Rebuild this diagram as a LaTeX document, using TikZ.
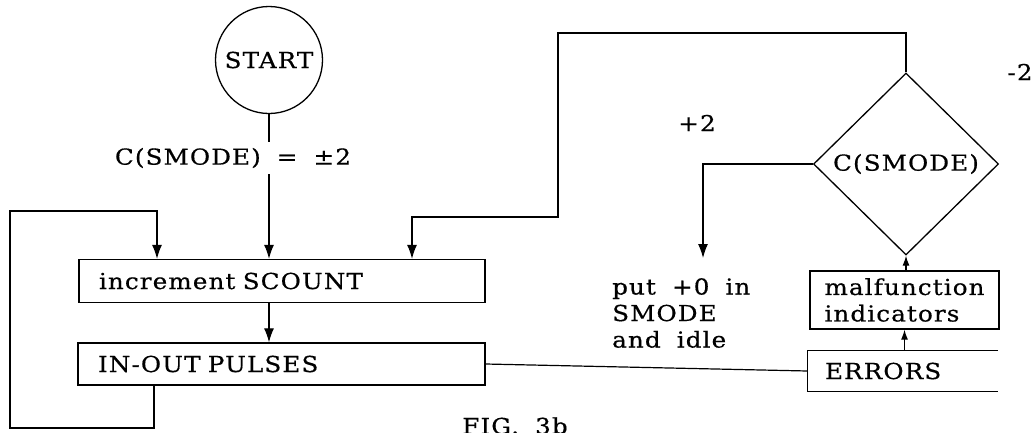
\documentclass[tikz,border=0pt]{standalone}
\usepackage{fontspec}
\setmainfont{DejaVu Serif}[FakeStretch=1.12, LetterSpace=5, WordSpace=1.8, FakeBold=0.5]
\usetikzlibrary{shapes.geometric,arrows.meta}
\begin{document}
\begin{tikzpicture}[x=1pt,y=-1pt,
  every node/.style={font=\fontsize{22}{26.5}\selectfont},
  ln/.style={line width=1.2pt},
  arr/.style={ln,-{Latex[length=14pt,width=10pt]}},
  sarr/.style={ln,-{Latex[length=10pt,width=7pt]}},
  box/.style={draw,line width=1.3pt,inner ysep=0pt,align=left},
]
\useasboundingbox (0,0) rectangle (1035,432);
\clip (0,0) rectangle (1035,432);

% nodes
\node[draw,circle,line width=1.3pt,minimum size=107pt,inner sep=0pt] (start) at (269,60) {START};
\node[box,text width=366pt,inner xsep=20pt,minimum height=43pt] (inc) at (282,281) {increment SCOUNT};
\node[box,text width=367pt,inner xsep=20pt,minimum height=42pt] (io) at (281.5,364) {IN-OUT PULSES};
\node[draw,diamond,line width=1.3pt,minimum width=185pt,minimum height=182pt,inner sep=0pt] (dia) at (906,164) {C(SMODE)};
\node[box,text width=160pt,inner xsep=14.5pt,minimum height=58pt] (mal) at (904.5,300) {malfunction\\indicators};
\node[align=left,text width=156pt,inner xsep=17pt,inner ysep=0pt,minimum height=40pt] (err) at (903,371) {ERRORS};
\draw[line width=1.3pt] (err.north east) -- (err.north west) -- (err.south west) -- (err.south east);

% coordinates
\coordinate (t2) at (558,33);
\coordinate (t4) at (412,217);
\coordinate (pend) at (703,258);
\coordinate (l1) at (154,428);
\coordinate (l2) at (10,211);
\coordinate (l3) at (157,211);

% connectors
\draw[arr] (start) -- (inc.north -| start);
\node[fill=white,inner xsep=3pt,inner ysep=6pt] (lab) at (233,158) {C(SMODE) = ±2};
\draw[arr] (inc.south -| start) -- (io.north -| start);
\draw[arr] (io.south -| l1) -- (l1) -| (l2) -- (l3) -- (inc.north -| l3);
\draw[arr] (dia.north) |- (t2) |- (t4) -- (inc.north -| t4);
\draw[arr] (dia.west) -| (pend);
\draw[sarr] (err.north -| mal) -- (mal.south);
\draw[sarr] (mal.north -| dia) -- (dia.south);
\draw[ln] (io.east) -- (err.west);

% labels
\node (plus) at (697,123) {+2};
\node (minus) at (1020,72) {-2};
\node[anchor=north west,align=left,inner sep=0pt] (put) at (612,278) {put +0 in\\SMODE\\and idle};
\node[anchor=base] (fig) at (515,434) {FIG. 3b};
\end{tikzpicture}
\end{document}
